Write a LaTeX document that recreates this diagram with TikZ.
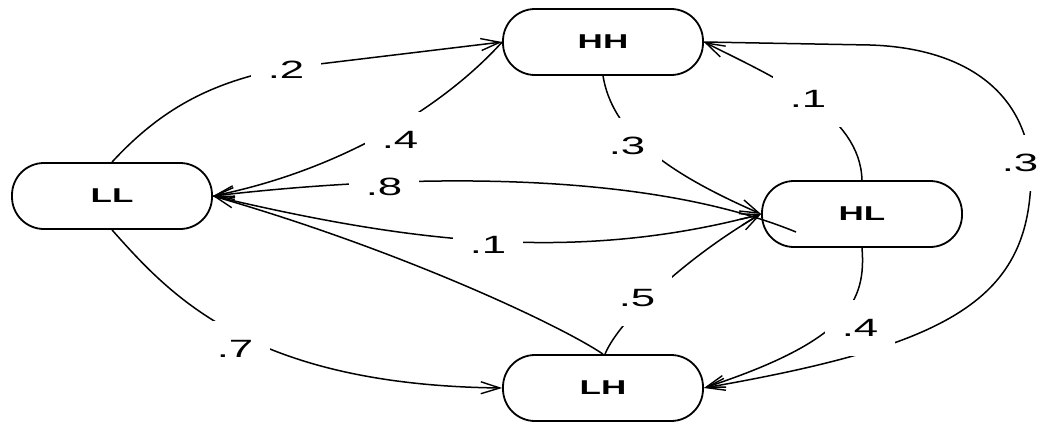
\documentclass[tikz,border=0pt]{standalone}
\usepackage{fontspec}
\usepackage{graphicx}
\setmainfont{Liberation Sans}
\usetikzlibrary{arrows.meta,calc}
\newcommand\widetext[1]{\scalebox{1.75}[1]{#1}}
\begin{document}
\begin{tikzpicture}[x=1pt,y=-1pt,
  state/.style={draw, line width=1.8pt, fill=white, rounded corners=32pt,
    minimum width=200pt, minimum height=66pt, inner sep=0pt,
    font=\fontsize{20}{24}\selectfont\bfseries},
  prob/.style={fill=white, inner xsep=17pt, inner ysep=19pt,
    font=\fontsize{25}{28}\selectfont},
  edge/.style={line width=1.5pt,
    -{Straight Barb[length=19pt,width=12pt,line width=1.4pt]}}
]
\useasboundingbox (0,0) rectangle (1041,423);
\clip (0,0) rectangle (1041,423);

% states
\node[state] (LL) at (112,196) {\widetext{LL}};
\node[state] (HH) at (603,42)  {\widetext{HH}};
\node[state] (HL) at (862,214) {\widetext{HL}};
\node[state] (LH) at (603,388) {\widetext{LH}};

% transitions
\draw[edge] (LL.north) .. controls (160,110) and (210,82) .. (286,68) -- (HH.west);
\draw[edge] (HH.west) .. controls (450,100) and (350,168) .. (LL.east);
\draw[edge] ($(HL.center)+(-66,18)$) .. controls (650,172) and (420,172) .. (LL.east);
\draw[edge] (LL.east) .. controls (400,240) and (570,265) .. (HL.west);
\draw[edge] (LH.north) .. controls (560,325) and (400,250) .. (LL.east);
\draw[edge] ([xshift=2pt]LH.north) .. controls (620,318) and (690,255) .. (HL.west);
\draw[edge] (HH.south) .. controls (612,130) and (660,170) .. (HL.west);
\draw[edge] (HL.north) .. controls (860,115) and (780,80) .. (HH.east);
\draw[edge] (HL.south) .. controls (866,300) and (850,340) .. (LH.east);
\draw[edge] (HH.east) -- (870,45) .. controls (965,48) and (1026,92) .. (1031,170)
  .. controls (1032,300) and (950,345) .. (LH.east);
\draw[edge] (LL.south) .. controls (170,295) and (250,385) .. (LH.west);

% probabilities
\node[prob] (p1) at (286,70)  {\widetext{.2}};
\node[prob] (p2) at (400,140) {\widetext{.4}};
\node[prob] (p3) at (384,187) {\widetext{.8}};
\node[prob] (p4) at (488,245) {\widetext{.1}};
\node[prob] (p5) at (637,298) {\widetext{.5}};
\node[prob] (p6) at (627,146) {\widetext{.3}};
\node[prob] (p7) at (808,99)  {\widetext{.1}};
\node[prob] (p8) at (860,328) {\widetext{.4}};
\node[prob] (p9) at (1020,163) {\widetext{.3}};
\node[prob] (p10) at (235,349) {\widetext{.7}};
\end{tikzpicture}
\end{document}
